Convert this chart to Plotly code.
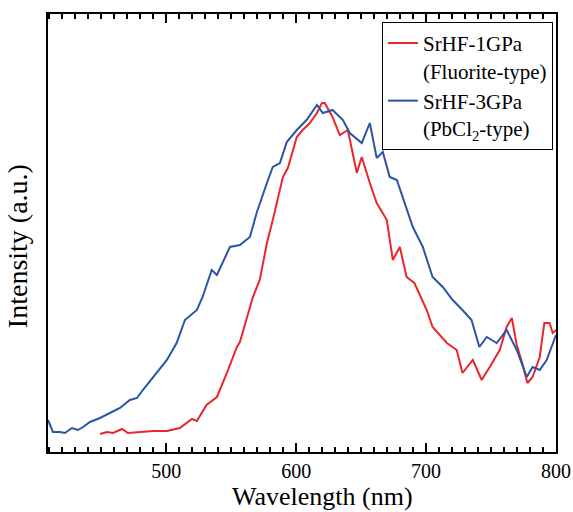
import plotly.graph_objects as go

red_wl = [449, 454.4, 459, 466, 470.5, 479.8, 489.8, 500.5, 510.5, 519.8, 523.6, 531, 539, 546.7,
          554.4, 556.7, 566.7, 572, 577.5, 582,
          589.8, 593.6, 600.5, 605, 610.5, 616, 619.8, 622, 628, 633.6, 639.8, 646.7, 650.5,
          656.7, 662, 669.8, 674.4, 679.8, 685, 691, 700.5, 705, 716, 723.6, 728, 736, 742.8,
          749, 756.7, 762, 766, 769.8, 774, 778, 782, 787.5, 791, 795, 797.5, 800]
red_int = [18, 20, 19, 23, 19, 20, 21, 21, 24, 33, 31, 47, 55, 79,
           105, 110, 155, 172, 209, 232,
           275, 284, 315, 322, 329, 339, 349, 349, 335, 317, 322, 279, 295,
           269, 249, 232, 192, 205, 175, 169, 142, 125, 109, 102, 79, 92, 72,
           85, 102, 125, 134, 107, 89, 69, 75, 95, 129, 129, 119, 122]

blue_wl = [409, 412.8, 418.2, 422, 427.5, 432, 436, 441.3, 449, 456.7, 464.4, 472, 477.5, 482,
           492.8, 500.5, 508,
           514.4, 523.6, 528, 535, 539, 549, 556.7, 564.4, 569.8, 577.5, 582, 587.5, 592.8,
           600.5, 608, 616, 620.5, 628, 636, 641.3, 650.5, 656.7, 662, 666.7, 672, 677.5, 682,
           689.8, 697.5, 705, 712.8, 720.5, 728, 735, 741, 746.7, 754.4, 762, 769.8, 777.5,
           782, 787.5, 792.8, 797.5, 800]
blue_int = [32, 20, 20, 19, 24, 22, 25, 30, 34, 39, 44, 52, 54, 62,
            79, 92, 109,
            132, 142, 155, 182, 177, 205, 207, 215, 240, 269, 285, 289, 310,
            322, 332, 347, 339, 342, 332, 319, 309, 329, 294, 300, 275, 272, 255,
            225, 205, 175, 165, 152, 142, 132, 105, 115, 109, 122, 102, 75,
            85, 82, 92, 109, 117]

x_ticks = [500, 600, 700, 800]

serif = "Liberation Serif, Times New Roman, serif"

fig = go.Figure()
fig.add_trace(go.Scatter(x=red_wl, y=red_int, mode="lines",
                         line=dict(color="#e8262b", width=2),
                         name="SrHF-1GPa<br>(Fluorite-type)"))
fig.add_trace(go.Scatter(x=blue_wl, y=blue_int, mode="lines",
                         line=dict(color="#2a55a5", width=2),
                         name="SrHF-3GPa<br>(PbCl<sub>2</sub>-type)"))

fig.update_layout(
    width=573, height=512,
    margin=dict(l=48, r=17, t=14, b=60, autoexpand=False),
    plot_bgcolor="white", paper_bgcolor="white",
    font=dict(family=serif, color="black"),
    showlegend=True,
    legend=dict(x=0.994, y=0.982, xanchor="right", yanchor="top",
                bordercolor="black", borderwidth=1, bgcolor="white",
                font=dict(family=serif, size=21, color="black"),
                valign="top", tracegroupgap=0, itemwidth=30),
    xaxis=dict(range=[409, 800], tickvals=x_ticks, automargin=False,
               ticks="inside", ticklen=9, tickwidth=1.5, tickcolor="black",
               minor=dict(dtick=10, ticks="inside", ticklen=5, tickwidth=1.5, tickcolor="black"),
               showline=True, linecolor="black", linewidth=1.5, mirror="ticks",
               showgrid=False, zeroline=False,
               tickfont=dict(family=serif, size=20, color="black")),
    yaxis=dict(range=[0, 438], showticklabels=False, ticks="", automargin=False,
               showline=True, linecolor="black", linewidth=1.5, mirror=True,
               showgrid=False, zeroline=False),
    annotations=[
        dict(text="Wavelength (nm)", xref="paper", yref="paper",
             x=0.541, y=-0.138, xanchor="center", yanchor="bottom", showarrow=False,
             borderpad=0,
             font=dict(family=serif, size=26, color="black")),
        dict(text="Intensity (a.u.)", xref="paper", yref="paper", textangle=-90,
             x=-0.061, y=0.47, xanchor="center", yanchor="middle", showarrow=False,
             font=dict(family=serif, size=28, color="black")),
    ],
)

fig.write_html("out.html", config={"displayModeBar": False},
               post_script="document.body.style.margin='0';document.body.style.padding='0';")
